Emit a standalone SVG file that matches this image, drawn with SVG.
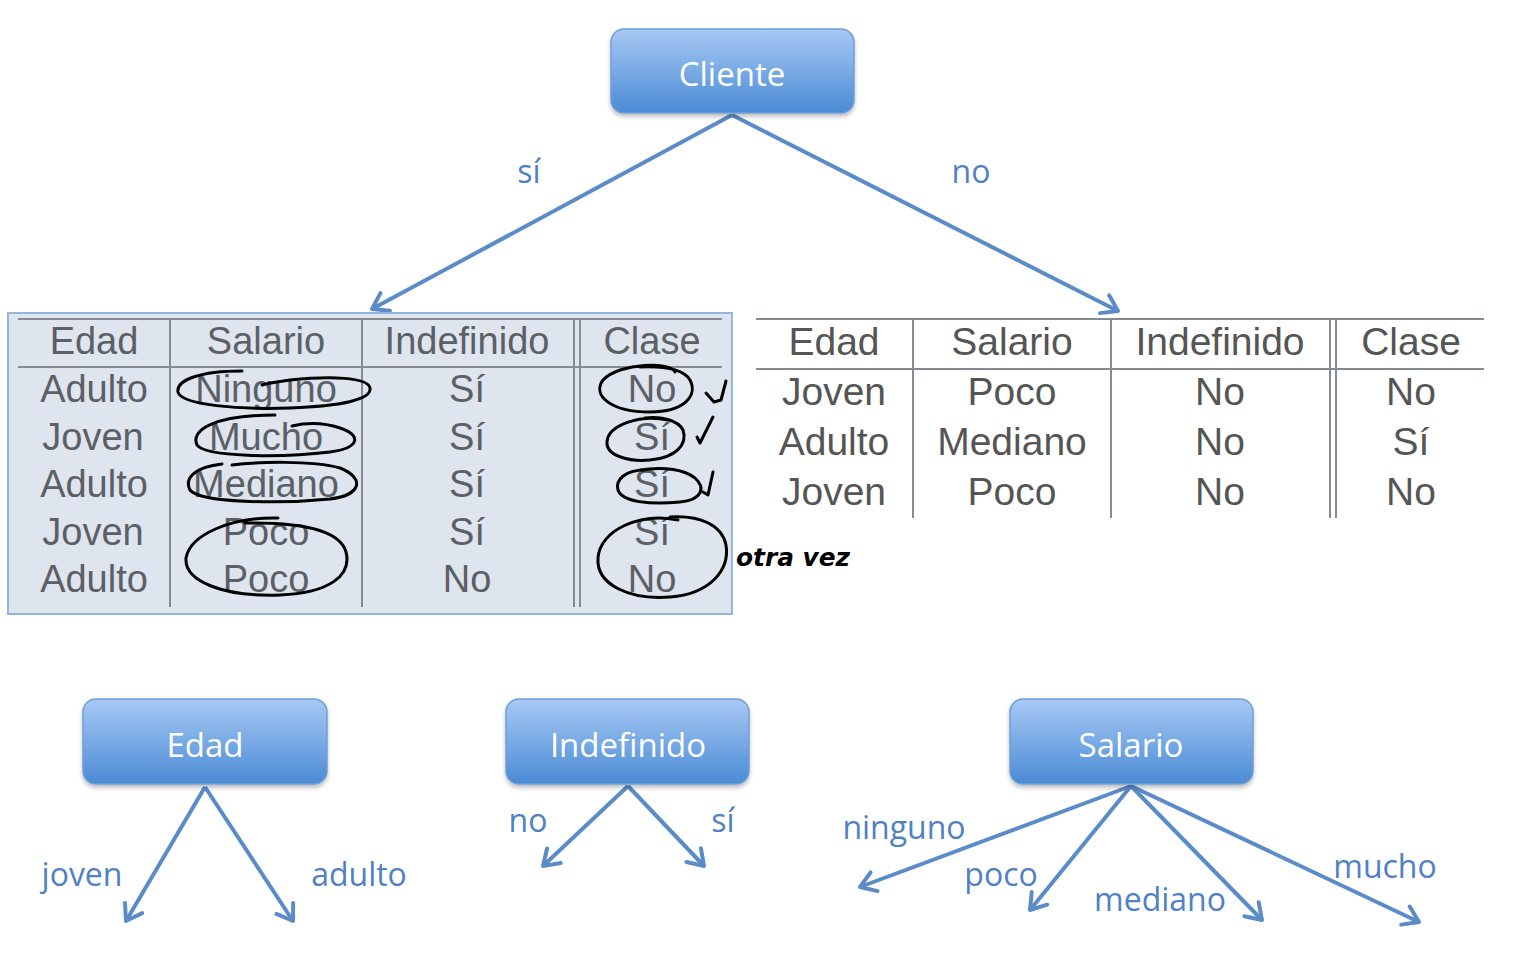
<svg xmlns="http://www.w3.org/2000/svg" width="1528" height="962" viewBox="0 0 1528 962">
<style>
.node{fill:url(#ng);stroke:#6f9fd8;stroke-width:1.5;filter:url(#sh)}
.nt{font-family:"Open Sans","DejaVu Sans",sans-serif;font-size:33px;fill:#fff;text-anchor:middle}
.lab{font-family:"Open Sans","DejaVu Sans",sans-serif;font-size:32px;fill:#4f81c4}
.conn{stroke:#5b8cc8;stroke-width:4;fill:none;marker-end:url(#ah)}
.tt{font-family:"Liberation Sans",Arial,sans-serif;font-size:38px;fill:#5b6066;text-anchor:middle}
.tr{font-family:"Liberation Sans",Arial,sans-serif;font-size:39px;fill:#555;text-anchor:middle}
.tl{stroke:#868b92;stroke-width:2;fill:none}
.hw{stroke:#000;stroke-width:3;fill:none;stroke-linecap:round;stroke-linejoin:round}
</style>
<defs>
<linearGradient id="ng" x1="0" y1="0" x2="0" y2="1">
<stop offset="0" stop-color="#a7c9f4"/>
<stop offset="1" stop-color="#4b8bd5"/>
</linearGradient>
<filter id="sh" x="-10%" y="-10%" width="120%" height="130%">
<feDropShadow dx="0" dy="3" stdDeviation="2" flood-color="#000" flood-opacity="0.25"/>
</filter>
<marker id="ah" markerUnits="userSpaceOnUse" markerWidth="40" markerHeight="40" viewBox="-20 -20 40 40" refX="0" refY="0" orient="auto">
<path d="M-15,-10 L0,0 L-15,10" stroke="#5b8cc8" stroke-width="4" fill="none" stroke-linecap="round" stroke-linejoin="round"/>
</marker>
</defs>
<rect width="1528" height="962" fill="#fff"/>

<g id="connectors">
<line class="conn" x1="732" y1="115" x2="372" y2="309"/>
<line class="conn" x1="732" y1="115" x2="1118" y2="311"/>
<line class="conn" x1="205" y1="787" x2="126" y2="921"/>
<line class="conn" x1="205" y1="787" x2="293" y2="921"/>
<line class="conn" x1="628" y1="786" x2="543" y2="866"/>
<line class="conn" x1="628" y1="786" x2="704" y2="866"/>
<line class="conn" x1="1131" y1="786" x2="860" y2="887"/>
<line class="conn" x1="1131" y1="786" x2="1030" y2="910"/>
<line class="conn" x1="1131" y1="786" x2="1262" y2="920"/>
<line class="conn" x1="1131" y1="786" x2="1419" y2="922"/>
<text class="lab" x="529" y="183" text-anchor="middle">sí</text>
<text class="lab" x="971" y="183" text-anchor="middle">no</text>
<text class="lab" x="82" y="886" text-anchor="middle">joven</text>
<text class="lab" x="359" y="886" text-anchor="middle">adulto</text>
<text class="lab" x="528" y="832" text-anchor="middle">no</text>
<text class="lab" x="723" y="832" text-anchor="middle">sí</text>
<text class="lab" x="904" y="839" text-anchor="middle">ninguno</text>
<text class="lab" x="1001" y="886" text-anchor="middle">poco</text>
<text class="lab" x="1160" y="911" text-anchor="middle">mediano</text>
<text class="lab" x="1385" y="878" text-anchor="middle">mucho</text>
</g>

<g id="node-cliente">
<rect class="node" x="611" y="29" width="243" height="84" rx="13"/>
<text class="nt" x="732" y="86">Cliente</text>
</g>

<g id="table-si">
<rect x="8" y="313" width="724" height="301" fill="#dfe5ee" stroke="#93b5de" stroke-width="2"/>
<line class="tl" x1="18" y1="319" x2="722" y2="319"/>
<line class="tl" x1="18" y1="367" x2="722" y2="367"/>
<line class="tl" x1="170" y1="319" x2="170" y2="607"/>
<line class="tl" x1="362" y1="319" x2="362" y2="607"/>
<line class="tl" x1="574" y1="319" x2="574" y2="607"/>
<line class="tl" x1="580" y1="319" x2="580" y2="607"/>
<text class="tt" x="94" y="354">Edad</text>
<text class="tt" x="266" y="354">Salario</text>
<text class="tt" x="467" y="354">Indefinido</text>
<text class="tt" x="652" y="354">Clase</text>
<text class="tt" x="94" y="402">Adulto</text>
<text class="tt" x="266" y="402">Ninguno</text>
<text class="tt" x="467" y="402">Sí</text>
<text class="tt" x="652" y="402">No</text>
<text class="tt" x="93" y="450">Joven</text>
<text class="tt" x="266" y="450">Mucho</text>
<text class="tt" x="467" y="450">Sí</text>
<text class="tt" x="652" y="450">Sí</text>
<text class="tt" x="94" y="497">Adulto</text>
<text class="tt" x="266" y="497">Mediano</text>
<text class="tt" x="467" y="497">Sí</text>
<text class="tt" x="652" y="497">Sí</text>
<text class="tt" x="93" y="545">Joven</text>
<text class="tt" x="266" y="545">Poco</text>
<text class="tt" x="467" y="545">Sí</text>
<text class="tt" x="652" y="545">Sí</text>
<text class="tt" x="94" y="592">Adulto</text>
<text class="tt" x="266" y="592">Poco</text>
<text class="tt" x="467" y="592">No</text>
<text class="tt" x="652" y="592">No</text>
</g>

<g id="table-no">
<line class="tl" x1="756" y1="319" x2="1484" y2="319"/>
<line class="tl" x1="756" y1="369" x2="1484" y2="369"/>
<line class="tl" x1="913" y1="319" x2="913" y2="518"/>
<line class="tl" x1="1111" y1="319" x2="1111" y2="518"/>
<line class="tl" x1="1330" y1="319" x2="1330" y2="518"/>
<line class="tl" x1="1336" y1="319" x2="1336" y2="518"/>
<text class="tr" x="834" y="355">Edad</text>
<text class="tr" x="1012" y="355">Salario</text>
<text class="tr" x="1220" y="355">Indefinido</text>
<text class="tr" x="1411" y="355">Clase</text>
<text class="tr" x="834" y="405">Joven</text>
<text class="tr" x="1012" y="405">Poco</text>
<text class="tr" x="1220" y="405">No</text>
<text class="tr" x="1411" y="405">No</text>
<text class="tr" x="834" y="455">Adulto</text>
<text class="tr" x="1012" y="455">Mediano</text>
<text class="tr" x="1220" y="455">No</text>
<text class="tr" x="1411" y="455">Sí</text>
<text class="tr" x="834" y="505">Joven</text>
<text class="tr" x="1012" y="505">Poco</text>
<text class="tr" x="1220" y="505">No</text>
<text class="tr" x="1411" y="505">No</text>
</g>

<g id="annotations">
<path class="hw" d="M242 371 C200 371,176 380,178 392 C181 405,240 410,290 408 C340 406,372 400,370 388 C368 377,330 376,290 380 C275 382,268 383,262 385"/>
<path class="hw" d="M275 415 C215 415,190 430,197 445 C205 457,280 458,330 452 C360 448,362 435,340 428 C322 422,305 423,292 426"/>
<path class="hw" d="M222 464 C195 467,184 478,190 490 C200 503,280 504,330 499 C362 495,365 478,340 468 C312 460,255 462,232 465"/>
<path class="hw" d="M278 518 C230 517,190 535,186 558 C184 582,225 597,280 595 C330 593,352 575,346 552 C340 530,300 522,245 523"/>
<path class="hw" d="M675 372 C672 362,620 362,603 380 C592 395,610 412,650 412 C685 412,698 395,690 380 C684 370,665 366,640 367"/>
<path class="hw" d="M668 420 C640 414,608 425,607 442 C606 456,630 462,650 460 C675 458,688 445,683 430 C678 420,660 416,645 418"/>
<path class="hw" d="M645 470 C625 470,615 480,618 490 C622 502,650 505,680 502 C702 500,706 488,695 478 C685 470,665 466,640 470"/>
<path class="hw" d="M678 520 C640 512,600 530,598 558 C596 585,630 600,670 597 C710 594,730 570,726 545 C722 525,700 515,670 517"/>
<path class="hw" d="M706 393 L714 402 L721 400 L726 381"/>
<path class="hw" d="M697 437 L700 443 L713 417"/>
<path class="hw" d="M703 492 L708 495 L713 472"/>
<text x="736" y="566" font-family="DejaVu Sans,sans-serif" font-size="24" font-weight="bold" font-style="italic" fill="#000" textLength="114" lengthAdjust="spacingAndGlyphs">otra vez</text>
</g>

<g id="node-edad">
<rect class="node" x="83" y="699" width="244" height="85" rx="13"/>
<text class="nt" x="205" y="757">Edad</text>
</g>
<g id="node-indefinido">
<rect class="node" x="506" y="699" width="243" height="85" rx="13"/>
<text class="nt" x="628" y="757">Indefinido</text>
</g>
<g id="node-salario">
<rect class="node" x="1010" y="699" width="243" height="85" rx="13"/>
<text class="nt" x="1131" y="757">Salario</text>
</g>
</svg>
